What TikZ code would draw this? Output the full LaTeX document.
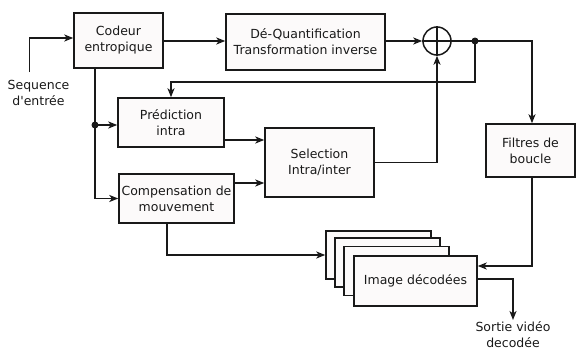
\documentclass[tikz,border=0pt]{standalone}
\usepackage{fontspec}
\newfontfamily\dejavu{DejaVu Sans}
\usetikzlibrary{arrows.meta,calc}
\definecolor{boxfill}{RGB}{252,250,250}
\definecolor{ink}{RGB}{25,25,25}
\begin{document}
\begin{tikzpicture}[x=1pt,y=-1pt,
  every node/.style={font=\dejavu\fontsize{12.5}{16}\selectfont, text=ink},
  blk/.style={draw=ink, line width=1.5pt, fill=boxfill, rectangle, inner sep=0pt, align=center},
  lbl/.style={align=center, inner sep=1pt},
  conn/.style={draw=ink, line width=1.5pt, -{Stealth[length=9pt,width=7pt,inset=2.5pt]}},
  wire/.style={draw=ink, line width=1.5pt},
  dot/.style={circle, fill=ink, inner sep=0pt, minimum size=7pt}]
\useasboundingbox (0,0) rectangle (576,356);
% blocks
\node[blk, minimum width=89pt, minimum height=55pt] (codeur) at (118.5,40.5) {Codeur\\entropique};
\node[blk, minimum width=159pt, minimum height=56pt] (deq) at (305.5,42) {Dé-Quantification\\Transformation inverse};
\node[draw=ink, line width=1.5pt, circle, minimum size=28pt, inner sep=0pt] (sum) at (437,41) {};
\draw[wire] (sum.north) -- (sum.south) (sum.west) -- (sum.east);
\node[blk, minimum width=106pt, minimum height=49pt] (pred) at (171,122.5) {Prédiction\\intra};
\node[blk, minimum width=109pt, minimum height=69pt] (sel) at (319.5,162.5) {Selection\\Intra/inter};
\node[blk, minimum width=115pt, minimum height=49pt] (comp) at (176.5,198.5) {Compensation de\\mouvement};
\node[blk, minimum width=89pt, minimum height=53pt] (filt) at (530.5,150.5) {Filtres de\\boucle};
\node[blk, minimum width=105pt, minimum height=48pt] (img1) at (378.5,255) {};
\node[blk, minimum width=105pt, minimum height=49pt] (img2) at (387.5,262.5) {};
\node[blk, minimum width=105pt, minimum height=49pt] (img3) at (396.5,271) {};
\node[blk, minimum width=123pt, minimum height=50pt] (img) at (415.5,281) {Image décodées};
% labels
\node[lbl] (seq) at (38.5,93) {Sequence\\d'entrée};
\node[lbl, anchor=north] (out) at (513,320) {Sortie vidéo\\decodée};
% helper coordinates
\coordinate (seqstart) at (29.5,72);
\coordinate (split) at (95,125);
\coordinate (junc) at (475,41);
\coordinate (fb) at (171,82);
\coordinate (ps) at (0,140);
\coordinate (cs) at (0,183);
\coordinate (cx) at (167,0);
\coordinate (fy) at (0,266);
\coordinate (fx) at (532,0);
% connectors
\draw[conn] (seqstart) |- (codeur.west |- 0,38);
\draw[conn] (codeur.east |- 0,41) -- (deq.west |- 0,41);
\draw[conn] (deq.east |- sum) -- (sum.west);
\draw[wire] (sum.east) -- (junc);
\draw[conn] (junc) -- (fx |- junc) -- (fx |- filt.north);
\draw[conn] (junc) -- (junc |- fb) -- (fb) -- (pred.north);
\draw[conn] (split |- codeur.south) -- (split |- comp.west) -- (comp.west);
\draw[conn] (split) -- (pred.west |- split);
\node[dot] (juncdot) at (junc) {};
\node[dot] (splitdot) at (split) {};
\draw[conn] (pred.east |- ps) -- (sel.west |- ps);
\draw[conn] (comp.east |- cs) -- (sel.west |- cs);
\draw[conn] (sel.east) -| (sum.south);
\draw[conn] (cx |- comp.south) |- (img1.west);
\draw[conn] (fx |- filt.south) |- (img.east |- fy);
\draw[conn] (img.east |- 0,279) -| (out.north);
\end{tikzpicture}
\end{document}
